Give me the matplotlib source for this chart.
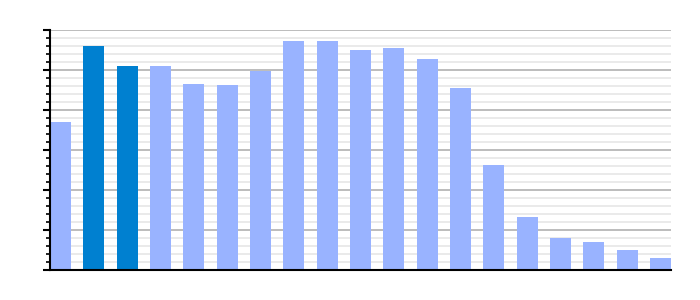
import matplotlib
matplotlib.use('Agg')
import matplotlib.pyplot as plt
from matplotlib.ticker import MultipleLocator, NullFormatter

# Bar heights (axis 0-60, no labels shown)
values = [37, 56, 51, 51, 46.5, 46.25, 49.75, 57.25, 57.25, 55, 55.5,
          52.75, 45.5, 26.25, 13.25, 8, 7, 5, 3]
highlight = [1, 2]

light = '#99b3ff'
dark = '#0080d0'
colors = [dark if i in highlight else light for i in range(len(values))]

fig = plt.figure(figsize=(7, 3), dpi=100)
ax = fig.add_axes([50 / 700, 30 / 300, 621 / 700, 240 / 300])

width = 0.63
ax.bar(range(len(values)), values, width=width, color=colors, zorder=3)

ax.set_xlim(-width / 2, len(values) - 1 + width / 2)
ax.set_ylim(0, 60)

ax.yaxis.set_major_locator(MultipleLocator(10))
ax.yaxis.set_minor_locator(MultipleLocator(2))
ax.yaxis.set_major_formatter(NullFormatter())
ax.set_xticks([])
ax.grid(which='major', axis='y', color='#b0b0b0', linewidth=1.2, zorder=1)
ax.grid(which='minor', axis='y', color='#e6e6e6', linewidth=1.2, zorder=0)
ax.tick_params(axis='y', which='major', length=5, width=1.5, color='black')
ax.tick_params(axis='y', which='minor', length=3, width=1.2, color='black')

for side in ['top', 'right']:
    ax.spines[side].set_visible(False)
for side in ['left', 'bottom']:
    ax.spines[side].set_color('black')
    ax.spines[side].set_linewidth(1.5)
    ax.spines[side].set_zorder(4)

plt.savefig('out.png', dpi=100)
plt.close()
